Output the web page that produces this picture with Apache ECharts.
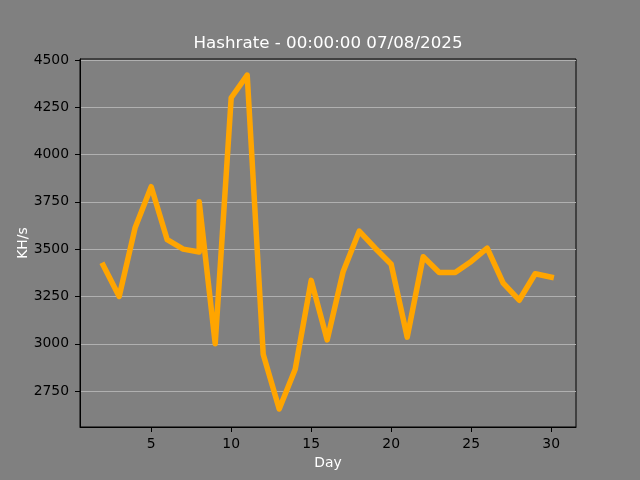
<!DOCTYPE html>
<html>
<head>
<meta charset="utf-8">
<script src="https://cdn.jsdelivr.net/npm/echarts@6/dist/echarts.min.js"></script>
<style>
html,body{margin:0;padding:0;background:#808080;}
#c{width:640px;height:480px;}
</style>
</head>
<body>
<div id="c"></div>
<script>
const titleText = 'Hashrate - 00:00:00 07/08/2025';
const days = [2,3,4,5,6,7,8,8,9,10,11,12,13,14,15,16,17,18,19,20,21,22,23,24,25,26,27,28,29,30];
const hashrate = [3415,3250,3615,3830,3550,3500,3485,3750,3000,4300,4420,2945,2655,2865,3335,3020,3382,3595,3505,3420,3035,3460,3377,3377,3435,3505,3320,3230,3370,3352];
const xTicks = [5,10,15,20,25,30];
const yTicks = [2750,3000,3250,3500,3750,4000,4250,4500];

const font = 'DejaVu Sans';
const chart = echarts.init(document.getElementById('c'), null, {renderer:'canvas'});
chart.setOption({
  backgroundColor:'#808080',
  animation:false,
  title:{
    text:titleText,
    left:328,
    textAlign:'center',
    top:35,
    padding:0,
    textStyle:{color:'#ffffff',fontFamily:font,fontSize:16.7,fontWeight:'normal'}
  },
  grid:{left:80,right:64,top:59,bottom:53,show:true,borderColor:'#000',borderWidth:1,backgroundColor:'transparent',outerBoundsMode:'none',containLabel:false},
  xAxis:{
    type:'value',min:0.55,max:31.55,
    name:'Day',nameLocation:'middle',nameGap:29,nameMoveOverlap:false,
    nameTextStyle:{color:'#ffffff',fontFamily:font,fontSize:13.9},
    axisLine:{show:true,lineStyle:{color:'#000',width:1}},
    axisTick:{show:true,length:5,lineStyle:{color:'#000',width:1},customValues:xTicks},
    axisLabel:{color:'#000',fontFamily:font,fontSize:13.9,margin:10,customValues:xTicks,formatter:v=>String(v)},
    splitLine:{show:false}
  },
  yAxis:{
    type:'value',min:2560,max:4505,
    name:'KH/s',nameLocation:'middle',nameGap:50,nameRotate:90,nameMoveOverlap:false,
    nameTextStyle:{color:'#ffffff',fontFamily:font,fontSize:13.9},
    axisLine:{show:true,lineStyle:{color:'#000',width:1}},
    axisTick:{show:true,length:5,lineStyle:{color:'#000',width:1},customValues:yTicks},
    axisLabel:{color:'#000',fontFamily:font,fontSize:13.9,margin:11,customValues:yTicks,formatter:v=>String(v)},
    splitLine:{show:true,lineStyle:{color:'#b0b0b0',width:1},customValues:yTicks}
  },
  series:[{
    type:'line',
    data:days.map((d,i)=>[d,hashrate[i]]),
    showSymbol:false,
    symbol:'none',
    lineStyle:{color:'#FFA500',width:5.5,join:'round',cap:'square'},
    clip:true
  }]
});
</script>
</body>
</html>
